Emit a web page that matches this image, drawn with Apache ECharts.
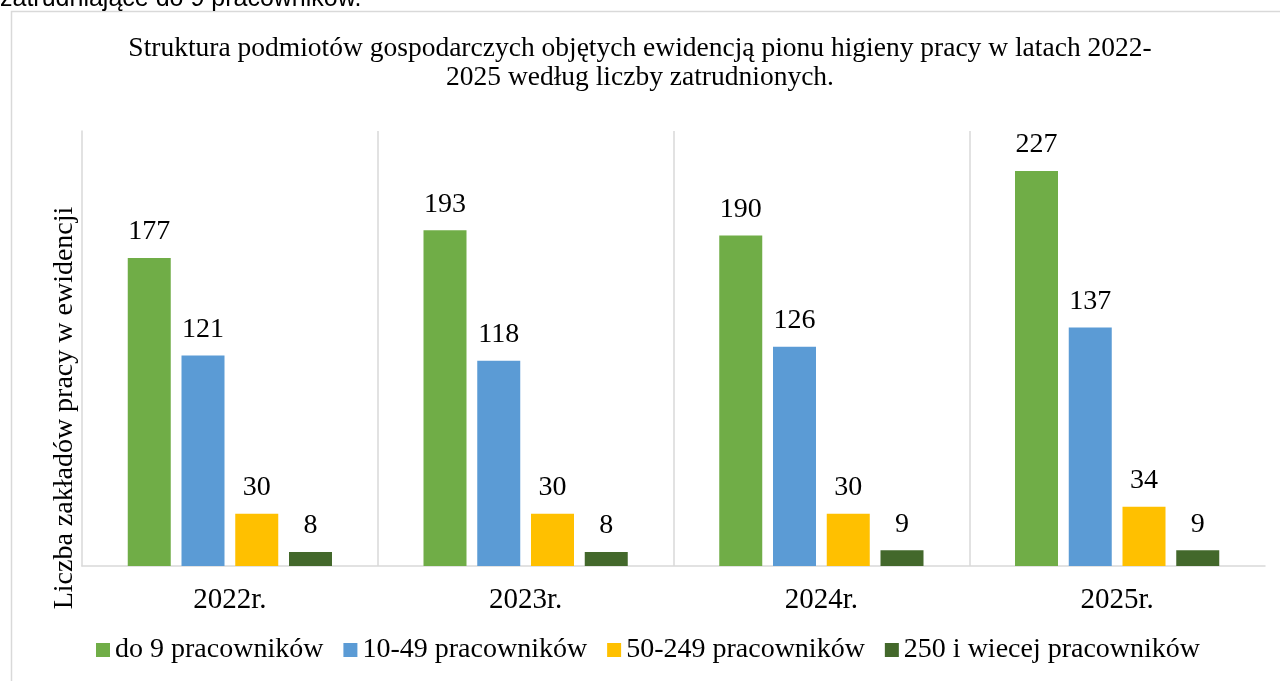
<!DOCTYPE html>
<html>
<head>
<meta charset="utf-8">
<script src="https://cdn.jsdelivr.net/npm/echarts@6/dist/echarts.min.js"></script>
<style>
    html, body { margin: 0; padding: 0; background: #fff; }
    #chart { width: 1280px; height: 681px; }
</style>
</head>
<body>
<div id="chart"></div>
<script>
// chart data
const years = ['2022r.', '2023r.', '2024r.', '2025r.'];
const upTo9 = [177, 193, 190, 227];
const from10to49 = [121, 118, 126, 137];
const from50to249 = [30, 30, 30, 34];
const from250 = [8, 8, 9, 9];
const seriesNames = ['do 9 pracowników', '10-49 pracowników', '50-249 pracowników', '250 i wiecej pracowników'];
const colors = ['#70ad47', '#5b9bd5', '#ffc000', '#43682b'];

const font = 'Liberation Serif, Times New Roman, serif';

const chart = echarts.init(document.getElementById('chart'));

const makeSeries = (name, values, color) => ({
    name,
    type: 'bar',
    data: values,
    barWidth: 43,
    barGap: '25%',
    itemStyle: { color },
    label: {
        show: true,
        position: 'top',
        distance: 12,
        color: '#000',
        fontFamily: font,
        fontSize: 28,
    },
});

chart.setOption({
    backgroundColor: '#fff',
    animation: false,
    title: {
        text: 'Struktura podmiotów gospodarczych objętych ewidencją pionu higieny pracy w latach 2022-\n2025 według liczby zatrudnionych.',
        left: 'center',
        top: 29,
        textStyle: {
            fontFamily: font,
            fontWeight: 'normal',
            fontSize: 27.5,
            lineHeight: 29,
            color: '#000',
        },
    },
    graphic: [
        {
            type: 'rect',
            left: 9,
            top: 9,
            shape: { width: 1290, height: 700 },
            style: { fill: 'none', stroke: '#d9d9d9', lineWidth: 1.5 },
            silent: true,
        },
        {
            // tail of the document text above the chart, cut off by the crop
            type: 'text',
            left: 0,
            top: -13,
            style: {
                text: 'zatrudniające do 9 pracowników.',
                font: '25px Liberation Sans, Arial, sans-serif',
                fill: '#000',
            },
            silent: true,
        },
        {
            // y axis title, sits a little below the plot middle as in the source
            type: 'text',
            x: 65,
            y: 408,
            rotation: Math.PI / 2,
            style: {
                text: 'Liczba zakładów pracy w ewidencji',
                font: '28px Liberation Serif, Times New Roman, serif',
                fill: '#000',
                align: 'center',
                verticalAlign: 'middle',
            },
            silent: true,
        },
    ],
    legend: {
        bottom: 12,
        left: 91,
        itemWidth: 14,
        itemHeight: 14,
        itemGap: 20,
        icon: 'rect',
        textStyle: { fontFamily: font, fontSize: 28, color: '#000' },
        data: seriesNames,
    },
    grid: { left: 82, right: 15, top: 131, bottom: 115 },
    xAxis: {
        type: 'category',
        data: years,
        axisLine: { lineStyle: { color: '#d9d9d9', width: 1.5 } },
        axisTick: { show: false },
        splitLine: { show: true, showMinLine: false, showMaxLine: false, lineStyle: { color: '#d9d9d9', width: 1.5 } },
        axisLabel: { fontFamily: font, fontSize: 29, color: '#000', margin: 20 },
    },
    yAxis: {
        type: 'value',
        min: 0,
        max: 250,
        axisLine: { show: true, lineStyle: { color: '#d9d9d9', width: 1.5 } },
        axisTick: { show: false },
        axisLabel: { show: false },
        splitLine: { show: false },
    },
    series: [
        makeSeries(seriesNames[0], upTo9, colors[0]),
        makeSeries(seriesNames[1], from10to49, colors[1]),
        makeSeries(seriesNames[2], from50to249, colors[2]),
        makeSeries(seriesNames[3], from250, colors[3]),
    ],
});
</script>
</body>
</html>
